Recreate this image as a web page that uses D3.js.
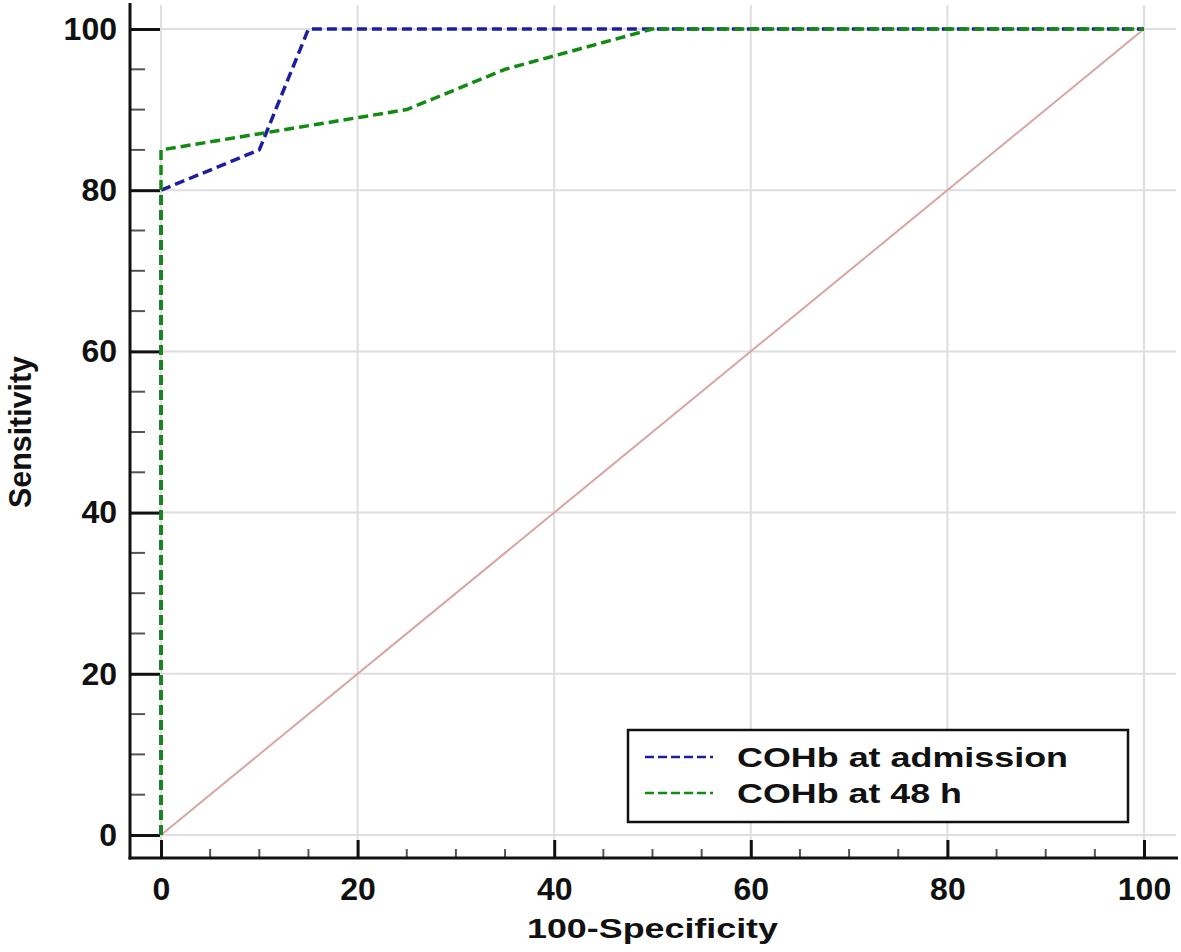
<!DOCTYPE html>
<html>
<head>
<meta charset="utf-8">
<script src="https://cdn.jsdelivr.net/npm/d3@7"></script>
<style>
  body { margin: 0; background: #fff; }
  text { font-family: "Liberation Sans", Arial, sans-serif; font-weight: bold; fill: #111; }
</style>
</head>
<body>
<svg id="chart" width="1181" height="952"></svg>
<script>
// ROC curves, values
const admission = [[0, 0], [0, 80], [10, 85], [15, 100], [100, 100]];
const after48h = [[0, 0], [0, 85], [25, 90], [35, 95], [50, 100], [100, 100]];
const reference = [[0, 0], [100, 100]];
const seriesNames = ["COHb at admission", "COHb at 48 h"];
const seriesColors = ["#1f1f9e", "#138a13"];
const xTicks = [0, 20, 40, 60, 80, 100];
const yTicks = [0, 20, 40, 60, 80, 100];
const xTitle = "100-Specificity";
const yTitle = "Sensitivity";

const svg = d3.select("#chart");
const frame = {left: 130, right: 1178, top: 3, bottom: 858};

const x = d3.scaleLinear().domain([0, 100]).range([161, 1144]);
const y = d3.scaleLinear().domain([0, 100]).range([835, 29]);
const minor = d3.range(0, 101, 5).filter(d => d % 20 !== 0);

// grid
svg.append("g").selectAll("line").data(xTicks).join("line")
    .attr("x1", d => x(d)).attr("x2", d => x(d))
    .attr("y1", 5).attr("y2", frame.bottom)
    .attr("stroke", "#dedede").attr("stroke-width", 2);
svg.append("g").selectAll("line").data(yTicks).join("line")
    .attr("x1", frame.left).attr("x2", 1176)
    .attr("y1", d => y(d)).attr("y2", d => y(d))
    .attr("stroke", "#dedede").attr("stroke-width", 2);

// axes: ticks point inward
const xAxis = g => g
    .attr("transform", `translate(0,${frame.bottom})`)
    .call(d3.axisBottom(x).tickValues(xTicks).tickSize(-18).tickPadding(24))
    .call(g => g.select(".domain").remove())
    .call(g => g.selectAll(".tick line").attr("stroke", "#111").attr("stroke-width", 3))
    .call(g => g.selectAll(".tick text").attr("font-size", 32).attr("font-family", null)
        .attr("y", 42).attr("dy", 0));
const yAxis = g => g
    .attr("transform", `translate(${frame.left},0)`)
    .call(d3.axisLeft(y).tickValues(yTicks).tickSize(-30).tickPadding(13))
    .call(g => g.select(".domain").remove())
    .call(g => g.selectAll(".tick line").attr("stroke", "#111").attr("stroke-width", 3))
    .call(g => g.selectAll(".tick text").attr("font-size", 32).attr("font-family", null));

svg.append("g").call(xAxis);
svg.append("g").call(yAxis);

// minor ticks
svg.append("g").selectAll("line").data(minor).join("line")
    .attr("x1", d => x(d)).attr("x2", d => x(d))
    .attr("y1", frame.bottom).attr("y2", frame.bottom - 9)
    .attr("stroke", "#555").attr("stroke-width", 2);
svg.append("g").selectAll("line").data(minor).join("line")
    .attr("x1", frame.left).attr("x2", frame.left + 15)
    .attr("y1", d => y(d)).attr("y2", d => y(d))
    .attr("stroke", "#555").attr("stroke-width", 2);

// axis lines
svg.append("line").attr("x1", frame.left).attr("x2", frame.left)
    .attr("y1", frame.top).attr("y2", frame.bottom + 1.5)
    .attr("stroke", "#111").attr("stroke-width", 3);
svg.append("line").attr("x1", frame.left - 1.5).attr("x2", frame.right)
    .attr("y1", frame.bottom).attr("y2", frame.bottom)
    .attr("stroke", "#111").attr("stroke-width", 3);

const line = d3.line().x(d => x(d[0])).y(d => y(d[1]));

svg.append("path").datum(reference)
    .attr("fill", "none").attr("stroke", "#d8a4a4").attr("stroke-width", 2)
    .attr("d", line);

[admission, after48h].forEach((s, i) => {
  svg.append("path").datum(s)
      .attr("fill", "none")
      .attr("stroke", seriesColors[i])
      .attr("stroke-width", 3.5)
      .attr("stroke-dasharray", "10,5")
      .attr("stroke-linejoin", "round")
      .attr("d", line);
});

// titles
svg.append("text")
    .attr("x", x(50)).attr("y", 938)
    .attr("text-anchor", "middle")
    .attr("font-size", 28)
    .attr("textLength", 251).attr("lengthAdjust", "spacingAndGlyphs")
    .text(xTitle);
svg.append("text")
    .attr("transform", `translate(31,${y(50)}) rotate(-90)`)
    .attr("text-anchor", "middle")
    .attr("font-size", 32)
    .attr("textLength", 152).attr("lengthAdjust", "spacingAndGlyphs")
    .text(yTitle);

// legend
const legend = svg.append("g");
legend.append("rect")
    .attr("x", 628).attr("y", 730).attr("width", 500).attr("height", 92)
    .attr("fill", "#fff").attr("stroke", "#111").attr("stroke-width", 2.5);
const textLengths = [331, 225];
seriesNames.forEach((name, i) => {
  const yy = 757 + i * 36;
  legend.append("line")
      .attr("x1", 645).attr("x2", 713).attr("y1", yy).attr("y2", yy)
      .attr("stroke", seriesColors[i]).attr("stroke-width", 2.5)
      .attr("stroke-dasharray", "9,4");
  legend.append("text")
      .attr("x", 737).attr("y", yy + 10)
      .attr("font-size", 27)
      .attr("textLength", textLengths[i]).attr("lengthAdjust", "spacingAndGlyphs")
      .text(name);
});
</script>
</body>
</html>
